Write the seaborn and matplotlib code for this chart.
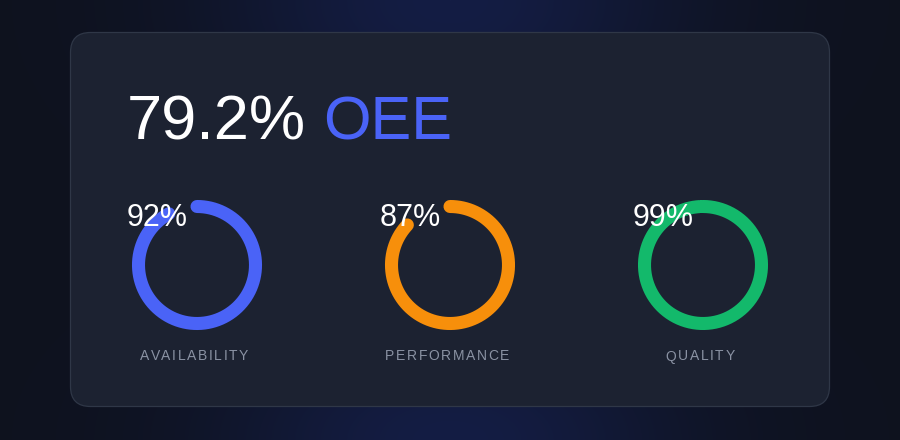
import numpy as np
import matplotlib
matplotlib.use("Agg")
import matplotlib.pyplot as plt
from matplotlib.patches import FancyBboxPatch
import seaborn as sns

# Data
oee_value = 79.2
metrics = ["AVAILABILITY", "PERFORMANCE", "QUALITY"]
values = [92, 87, 99]
ring_colors = ["#4a63f7", "#f78f0b", "#13b96b"]

sns.set_theme(style="dark")
plt.rcParams['font.family'] = ['Liberation Sans', 'DejaVu Sans']

W, H = 900, 440
fig = plt.figure(figsize=(9, 4.4), dpi=100)
ax = fig.add_axes([0, 0, 1, 1])
ax.set_xlim(0, W)
ax.set_ylim(H, 0)
ax.axis('off')

# Background with soft blue glow top and bottom
yy, xx = np.mgrid[0:H, 0:W]
base = np.array([14, 18, 30]) / 255
glow = np.array([20, 29, 68]) / 255
g_top = np.exp(-((xx - 450) / 230) ** 2 - (yy / 140) ** 2)
g_bot = np.exp(-((xx - 450) / 230) ** 2 - ((yy - H) / 120) ** 2)
wgt = np.clip(np.maximum(g_top, g_bot), 0, 1)[..., None]
bg = base * (1 - wgt) + glow * wgt
ax.imshow(bg, extent=(0, W, H, 0), zorder=0, aspect='auto')

# Card
card = FancyBboxPatch((70.5, 32.5), 759, 374, boxstyle="round,pad=0,rounding_size=20",
                      facecolor="#1c2231", edgecolor="#2f3747", linewidth=0.9, zorder=1)
ax.add_patch(card)

fig.canvas.draw()
renderer = fig.canvas.get_renderer()

# Headline
t1 = ax.text(127, 139, f"{oee_value}%", color="white", fontsize=45.5,
             ha="left", va="baseline", zorder=3)
bb = t1.get_window_extent(renderer)
ax.text(bb.x1 + 17, 139, "OEE", color=ring_colors[0], fontsize=44,
        ha="left", va="baseline", zorder=3)


def spaced_text(cx, y, s, spacing, **kw):
    # letter-spaced text centred on cx
    widths = []
    for ch in s:
        t = ax.text(0, 0, ch, **kw)
        widths.append(t.get_window_extent(renderer).width if ch != " " else 4)
        t.remove()
    total = sum(widths) + spacing * (len(s) - 1)
    x = cx - total / 2
    for ch, w in zip(s, widths):
        ax.text(x, y, ch, ha="left", va="center", **kw)
        x += w + spacing


centers = [197, 450, 703]
cy = 265
radius = 58.5
for cx, name, val, col in zip(centers, metrics, values, ring_colors):
    theta = np.linspace(0, val / 100 * 2 * np.pi, 300)
    sns.lineplot(x=cx + radius * np.sin(theta), y=cy - radius * np.cos(theta),
                 ax=ax, sort=False, estimator=None, color=col, linewidth=9.4,
                 solid_capstyle="round", zorder=2)
    ax.text(cx - 70, 226, f"{val}%", color="white", fontsize=22,
            ha="left", va="baseline", zorder=3)
    spaced_text(cx - 3, 356.5, name, 1.6, color="#8a92a3", fontsize=10, zorder=3)

ax.set_xlim(0, W)
ax.set_ylim(H, 0)
ax.axis('off')
fig.savefig("out.png", dpi=100, facecolor=fig.get_facecolor())
